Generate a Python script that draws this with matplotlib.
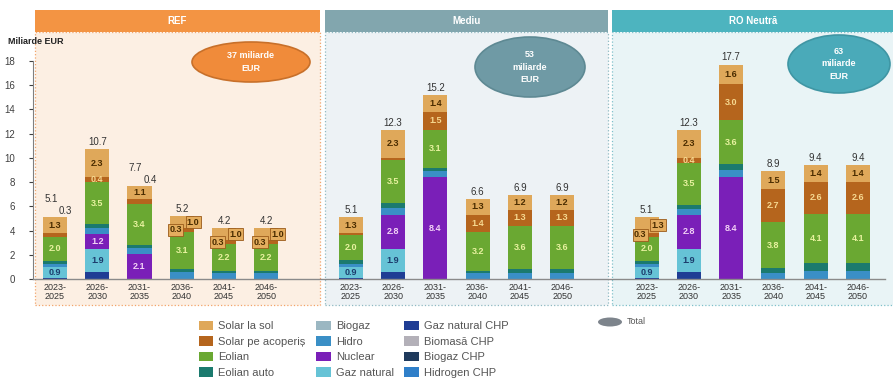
"""
Investiții în capacități de producere a energiei electrice, pe scenarii
"""

import matplotlib
matplotlib.use('Agg')
from matplotlib import pyplot as plt
from matplotlib.patches import Rectangle, Ellipse, Patch

plt.rcParams['font.family'] = ['Liberation Sans', 'DejaVu Sans']

# data (miliarde EUR)
PERIODS = ['2023-\n2025', '2026-\n2030', '2031-\n2035', '2036-\n2040', '2041-\n2045', '2046-\n2050']
SCENARIOS = ['REF', 'Mediu', 'RO Neutră']
SCENARIO_TOTALS = [37, 53, 63]

GAZ_CHP = {'REF': [0.1, 0.6, 0, 0, 0, 0],
           'Mediu': [0.1, 0.6, 0, 0, 0, 0],
           'RO Neutră': [0.1, 0.6, 0, 0, 0, 0]}
GAZ = {'REF': [0.9, 1.9, 0, 0, 0, 0],
       'Mediu': [0.9, 1.9, 0, 0, 0, 0],
       'RO Neutră': [0.9, 1.9, 0, 0, 0, 0]}
NUCLEAR = {'REF': [0, 1.2, 2.1, 0, 0, 0],
           'Mediu': [0, 2.8, 8.4, 0, 0, 0],
           'RO Neutră': [0, 2.8, 8.4, 0, 0, 0]}
HIDRO = {'REF': [0.2, 0.5, 0.5, 0.6, 0.5, 0.5],
         'Mediu': [0.2, 0.6, 0.5, 0.5, 0.5, 0.5],
         'RO Neutră': [0.2, 0.5, 0.6, 0.5, 0.7, 0.7]}
EOLIAN_AUTO = {'REF': [0.3, 0.3, 0.2, 0.2, 0.2, 0.2],
               'Mediu': [0.4, 0.4, 0.3, 0.2, 0.3, 0.3],
               'RO Neutră': [0.3, 0.3, 0.5, 0.4, 0.6, 0.6]}
EOLIAN = {'REF': [2.0, 3.5, 3.4, 3.1, 2.2, 2.2],
          'Mediu': [2.0, 3.5, 3.1, 3.2, 3.6, 3.6],
          'RO Neutră': [2.0, 3.5, 3.6, 3.8, 4.1, 4.1]}
SOLAR_ACOP = {'REF': [0.3, 0.4, 0.4, 0.3, 0.3, 0.3],
              'Mediu': [0.2, 0.2, 1.5, 1.4, 1.3, 1.3],
              'RO Neutră': [0.3, 0.4, 3.0, 2.7, 2.6, 2.6]}
SOLAR_SOL = {'REF': [1.3, 2.3, 1.1, 1.0, 1.0, 1.0],
             'Mediu': [1.3, 2.3, 1.4, 1.3, 1.2, 1.2],
             'RO Neutră': [1.3, 2.3, 1.6, 1.5, 1.4, 1.4]}

# how the small solar values are labelled in each bar
LABEL_MODE = {'REF': ['callout', 'inside', 'callout', 'boxed', 'boxed', 'boxed'],
              'Mediu': ['inside'] * 6,
              'RO Neutră': ['boxed', 'inside', 'inside', 'inside', 'inside', 'inside']}

# style
W, H = 893, 387
CLR = {
    'Solar la sol': '#dfa85a', 'Solar pe acoperiș': '#b5651d', 'Eolian': '#6aa832',
    'Eolian auto': '#1b7a6e', 'Biogaz': '#9bb7c2', 'Hidro': '#3a8fc6',
    'Nuclear': '#7a1fb8', 'Gaz natural': '#66c3d6', 'Gaz natural CHP': '#1f3d94',
    'Biomasă CHP': '#b3b0b8', 'Biogaz CHP': '#1f3a5c', 'Hidrogen CHP': '#2f7fc9',
}
TXT = {'Solar la sol': '#4a2c00', 'Solar pe acoperiș': '#f6d890', 'Eolian': '#e8f2a0',
       'Nuclear': '#f3d2f6', 'Gaz natural': '#1c3c6c'}
STACK = [('Gaz natural CHP', GAZ_CHP), ('Gaz natural', GAZ), ('Nuclear', NUCLEAR),
         ('Hidro', HIDRO), ('Eolian auto', EOLIAN_AUTO), ('Eolian', EOLIAN),
         ('Solar pe acoperiș', SOLAR_ACOP), ('Solar la sol', SOLAR_SOL)]
HEADER_CLR = ['#f39443', '#82a6ae', '#4db4bf']
PANEL_CLR = ['#fcefe3', '#edf2f5', '#e9f4f6']
EDGE_CLR = ['#f2a46a', '#8fb9c2', '#7fc0ca']
OVAL_CLR = ['#f08b3a', '#6f9aa5', '#4aaab9']
OVAL_EDGE = ['#c8702a', '#5e8993', '#3f96a4']
PANEL_LEFT = [35, 325, 612]
PANEL_WIDTH = [285, 283, 283]
OVALS = [(251, 62, 118, 40), (530, 67, 110, 60), (839, 64, 102, 58)]


def fx(px):
    return px / W


def fy(py):
    return 1 - py / H


fig = plt.figure(figsize=(W / 100, H / 100), dpi=100)
fig.patch.set_facecolor('white')

# scenario panels and headers
for s, name in enumerate(SCENARIOS):
    x0 = PANEL_LEFT[s]
    w = PANEL_WIDTH[s]
    fig.add_artist(Rectangle((fx(x0), fy(305)), fx(w), 273 / H, transform=fig.transFigure,
                             facecolor=PANEL_CLR[s], edgecolor=EDGE_CLR[s], linestyle=':',
                             linewidth=0.9, zorder=-2))
    fig.add_artist(Rectangle((fx(x0), fy(32)), fx(w), 22 / H, transform=fig.transFigure,
                             facecolor=HEADER_CLR[s], edgecolor='none', zorder=-1))
    fig.text(fx(x0 + w / 2), fy(21), name, color='white', fontsize=7, fontweight='bold',
             ha='center', va='center')
    cx, cy, ew, eh = OVALS[s]
    fig.add_artist(Ellipse((fx(cx), fy(cy)), fx(ew), eh / H, transform=fig.transFigure,
                           facecolor=OVAL_CLR[s], edgecolor=OVAL_EDGE[s], linewidth=1.2))
    if s == 0:
        oval_txt = '{} miliarde\nEUR'.format(SCENARIO_TOTALS[s])
    else:
        oval_txt = '{}\nmiliarde\nEUR'.format(SCENARIO_TOTALS[s])
    fig.text(fx(cx), fy(cy), oval_txt, color='white', fontsize=6.5, fontweight='bold',
             ha='center', va='center', linespacing=1.5)

# bars
slot = 42.26
ax = fig.add_axes([fx(33), fy(279), fx(852), 218 / H])
ax.patch.set_visible(False)
ax.set_xlim((33 - 55) / slot, (885 - 55) / slot)
ax.set_ylim(0, 18)
bw = 0.57

box_style = dict(boxstyle='square,pad=0.15', facecolor='#e4ad5e', edgecolor='#9a5a1a', linewidth=0.6)

xticks = []
for s, name in enumerate(SCENARIOS):
    xs = [7 * s + i for i in range(len(PERIODS))]
    xticks += xs
    bottom = [0.0] * len(PERIODS)
    for series, vals in STACK:
        v = vals[name]
        ax.bar(xs, v, bottom=bottom, width=bw, color=CLR[series], edgecolor='none', zorder=2)
        for i, x in enumerate(xs):
            mode = LABEL_MODE[name][i]
            yc = bottom[i] + v[i] / 2
            if series in TXT and v[i] >= 0.3:
                lab = '{:.1f}'.format(v[i])
                small_solar = series.startswith('Solar') and mode != 'inside'
                if small_solar and mode == 'boxed':
                    dx = -0.15 if series == 'Solar pe acoperiș' else 0.27
                    ax.text(x + dx, yc, lab, fontsize=6.5, fontweight='bold', color='#4a2c00',
                            ha='center', va='center', bbox=box_style, zorder=4)
                elif small_solar and mode == 'callout' and series == 'Solar pe acoperiș':
                    top = sum(vv[name][i] for _, vv in STACK)
                    ax.text(x + 0.25, top + 0.5, lab, fontsize=7, color='#333333',
                            ha='center', va='center', zorder=4)
                else:
                    ax.text(x, yc, lab, fontsize=6.5, fontweight='bold', color=TXT[series],
                            ha='center', va='center', zorder=3)
        bottom = [b + vv for b, vv in zip(bottom, v)]
    # totals above bars
    for i, x in enumerate(xs):
        if LABEL_MODE[name][i] == 'callout':
            ax.text(x - 0.1, bottom[i] + 1.5, '{:.1f}'.format(bottom[i]), fontsize=7,
                    color='#333333', ha='center', va='center')
        else:
            ax.text(x, bottom[i] + 0.6, '{:.1f}'.format(bottom[i]), fontsize=7,
                    color='#333333', ha='center', va='center')

ax.set_xticks(xticks)
ax.set_xticklabels(PERIODS * 3, fontsize=6.5, color='#333333', linespacing=0.95)
ax.tick_params(axis='x', length=0, pad=3)
ax.set_yticks(range(0, 19, 2))
ax.tick_params(axis='y', labelsize=7, colors='#404040', length=3, width=0.8, pad=10)
for side in ['top', 'right']:
    ax.spines[side].set_visible(False)
ax.spines['left'].set_color('#808080')
ax.spines['bottom'].set_color('#8a8a8a')
ax.spines['bottom'].set_linewidth(1.0)
fig.text(fx(8), fy(42), 'Miliarde EUR', fontsize=6.5, fontweight='bold', color='#222222',
         ha='left', va='center')

# legend
legend_order = ['Solar la sol', 'Solar pe acoperiș', 'Eolian', 'Eolian auto',
                'Biogaz', 'Hidro', 'Nuclear', 'Gaz natural',
                'Gaz natural CHP', 'Biomasă CHP', 'Biogaz CHP', 'Hidrogen CHP']
handles = [Patch(facecolor=CLR[k], edgecolor='none', label=k) for k in legend_order]
fig.legend(handles=handles, loc='upper left', bbox_to_anchor=(fx(199), fy(321)), ncol=3,
           frameon=False, fontsize=8, labelcolor='#555555', handlelength=1.3,
           handleheight=0.9, labelspacing=0.45, columnspacing=0.95, handletextpad=0.45,
           borderaxespad=0, borderpad=0)
fig.add_artist(Ellipse((fx(610), fy(322)), fx(24), 9 / H, transform=fig.transFigure,
                       facecolor='#7d848c', edgecolor='none'))
fig.text(fx(627), fy(322), 'Total', fontsize=6.5, color='#555555', ha='left', va='center')

fig.savefig('out.png', dpi=100)
